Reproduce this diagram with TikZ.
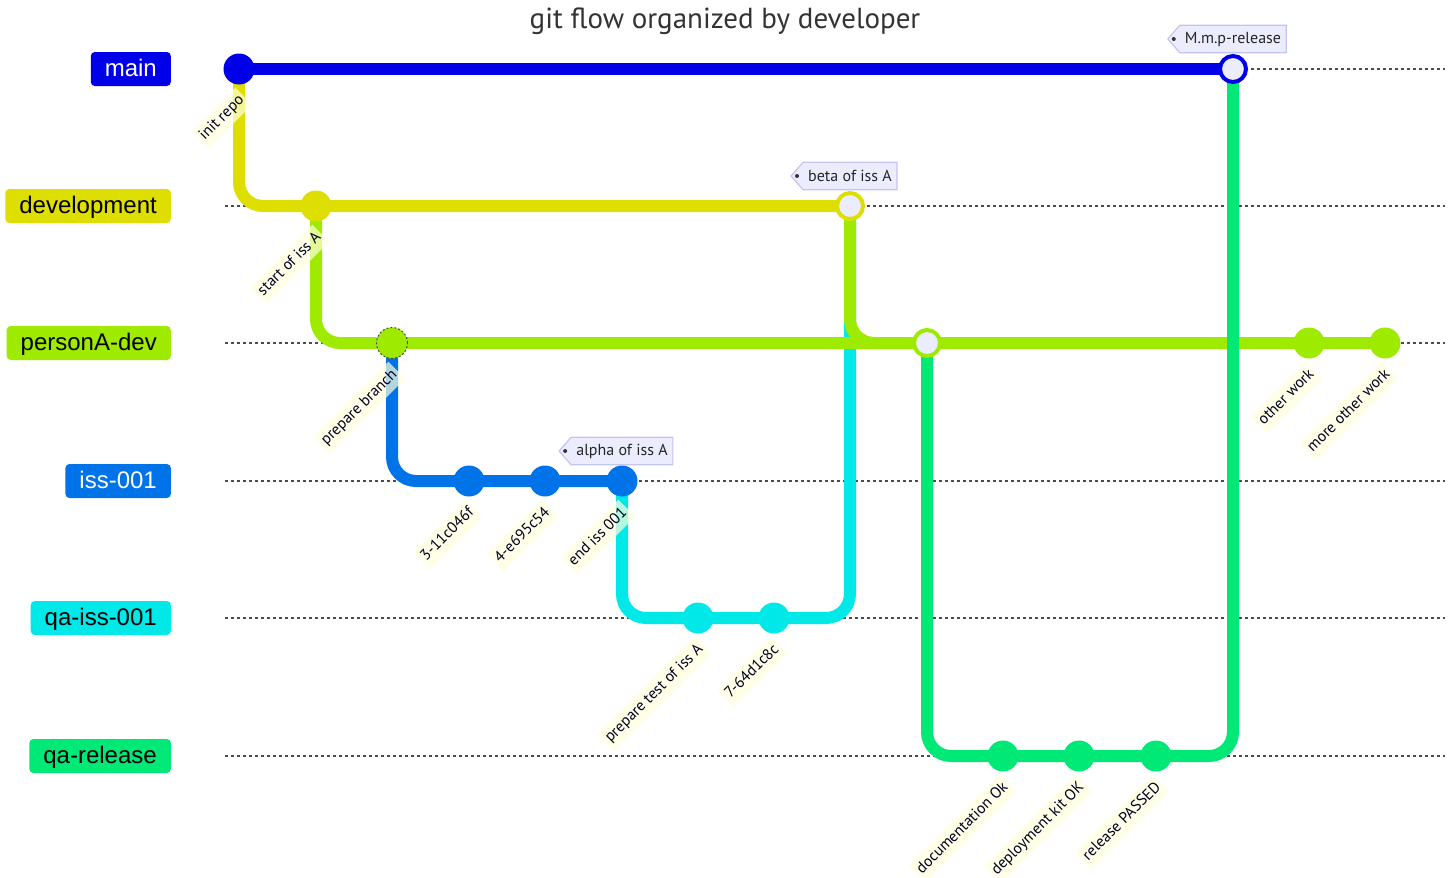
\documentclass[tikz,border=0pt]{standalone}
\usepackage{fontspec}
\setmainfont{PT Sans}
\newfontfamily\lanefont{Liberation Sans}
\usetikzlibrary{backgrounds}
\definecolor{mainclr}{RGB}{0,0,232}
\definecolor{devclr}{RGB}{222,222,0}
\definecolor{persclr}{RGB}{158,234,0}
\definecolor{issclr}{RGB}{0,115,232}
\definecolor{qaissclr}{RGB}{0,232,232}
\definecolor{qarelclr}{RGB}{0,232,118}
\definecolor{tagfill}{RGB}{236,236,255}
\definecolor{tagline}{RGB}{196,196,240}
\definecolor{lblbg}{RGB}{255,255,222}
\definecolor{lbltext}{RGB}{0,0,33}

\begin{document}
\begin{tikzpicture}[x=1pt,y=-1pt,
    lane/.style={draw=black!70,line width=1.2pt,dash pattern=on 3pt off 3pt},
    branch/.style={line width=12pt,rounded corners=24pt},
    commit/.style={circle,fill=#1,minimum size=31pt,inner sep=0pt},
    merged/.style={circle,draw=#1,line width=4pt,fill=tagfill,minimum size=26pt,inner sep=0pt},
    lanelabel/.style={fill=#1,rounded corners=4pt,anchor=east,minimum height=34pt,inner xsep=14pt,inner ysep=6pt,
        text height=17pt,text depth=2pt,font=\lanefont\fontsize{24}{24}\selectfont},
    clabel/.style={rotate=45,anchor=east,fill=lblbg,fill opacity=.7,text opacity=1,text=lbltext,
        inner xsep=3pt,inner ysep=5pt,text height=11pt,text depth=3pt,font=\fontsize{15.5}{15.5}\selectfont},
    tagtext/.style={inner xsep=5pt,minimum height=27pt,text=black!85,font=\fontsize{16}{16}\selectfont},
    tagbox/.style={fill=tagfill,draw=tagline,line width=1.2pt,line join=round}]
    \pgfmathsetmacro{\ymain}{69}
    \pgfmathsetmacro{\ydev}{206}
    \pgfmathsetmacro{\ypers}{343}
    \pgfmathsetmacro{\yiss}{481}
    \pgfmathsetmacro{\yqaiss}{618}
    \pgfmathsetmacro{\yqarel}{756}
    \useasboundingbox (0,0) rectangle (1452,878);
    \node[text=black!80,font=\fontsize{29}{29}\selectfont] (title) at (725,21) {git flow organized by developer};
    % branch names
    \node[lanelabel=mainclr,text=white] (lmain) at (171,\ymain) {main};
    \node[lanelabel=devclr] (ldev) at (171,\ydev) {development};
    \node[lanelabel=persclr] (lpers) at (171,\ypers) {personA-dev};
    \node[lanelabel=issclr,text=white] (liss) at (171,\yiss) {iss-001};
    \node[lanelabel=qaissclr] (lqaiss) at (171,\yqaiss) {qa-iss-001};
    \node[lanelabel=qarelclr] (lqarel) at (171,\yqarel) {qa-release};
    % commits
    \node[commit=mainclr] (init) at (239,\ymain) {};
    \node[merged=mainclr] (rel) at (1233,\ymain) {};
    \node[commit=devclr] (startA) at (316,\ydev) {};
    \node[merged=devclr] (betaA) at (850,\ydev) {};
    \node[commit=persclr,draw=black!70,dash pattern=on 2pt off 2pt,line width=1pt] (prep) at (392,\ypers) {};
    \node[merged=persclr] (mergeP) at (927,\ypers) {};
    \node[commit=persclr] (other) at (1309,\ypers) {};
    \node[commit=persclr] (more) at (1385,\ypers) {};
    \node[commit=issclr] (c3) at (469,\yiss) {};
    \node[commit=issclr] (c4) at (545,\yiss) {};
    \node[commit=issclr] (endiss) at (622,\yiss) {};
    \node[commit=qaissclr] (prept) at (698,\yqaiss) {};
    \node[commit=qaissclr] (c7) at (774,\yqaiss) {};
    \node[commit=qarelclr] (doc) at (1003,\yqarel) {};
    \node[commit=qarelclr] (kit) at (1079,\yqarel) {};
    \node[commit=qarelclr] (passed) at (1156,\yqarel) {};
    % commit messages
    \node[clabel] (linit) at ([shift={(5,27)}]init.center) {init repo};
    \node[clabel] (lstartA) at ([shift={(5,27)}]startA.center) {start of iss A};
    \node[clabel] (lprep) at ([shift={(5,27)}]prep.center) {prepare branch};
    \node[clabel] (lc3) at ([shift={(5,27)}]c3.center) {3-11c046f};
    \node[clabel] (lc4) at ([shift={(5,27)}]c4.center) {4-e695c54};
    \node[clabel] (lendiss) at ([shift={(5,27)}]endiss.center) {end iss 001};
    \node[clabel] (lprept) at ([shift={(5,27)}]prept.center) {prepare test of iss A};
    \node[clabel] (lc7) at ([shift={(5,27)}]c7.center) {7-64d1c8c};
    \node[clabel] (ldoc) at ([shift={(5,27)}]doc.center) {documentation Ok};
    \node[clabel] (lkit) at ([shift={(5,27)}]kit.center) {deployment kit OK};
    \node[clabel] (lpassed) at ([shift={(5,27)}]passed.center) {release PASSED};
    \node[clabel] (lother) at ([shift={(5,27)}]other.center) {other work};
    \node[clabel] (lmore) at ([shift={(5,27)}]more.center) {more other work};
    % tags
    \node[tagtext] (tbeta) at ([shift={(0,-30)}]betaA.center) {beta of iss A};
    \node[tagtext] (talpha) at ([shift={(0,-30)}]endiss.center) {alpha of iss A};
    \node[tagtext] (trel) at ([shift={(0,-30)}]rel.center) {M.m.p-release};
    \begin{scope}[on background layer]
        \foreach \y in {\ymain,\ydev,\ypers,\yiss,\yqaiss,\yqarel}
            \draw[lane] (225,\y) -- (1445,\y);
        \draw[branch,mainclr] (init.center) -- (rel.center);
        \draw[branch,devclr] (init.center) |- (startA.center) -- (betaA.center);
        \draw[branch,qaissclr] (endiss.center) |- (prept.center) -- (c7.center) -| (betaA.center);
        \draw[branch,persclr] (startA.center) |- (prep.center) -- (more.center);
        \draw[branch,persclr] (betaA.center) |- (mergeP.center);
        \draw[branch,issclr] (prep.center) |- (c3.center) -- (endiss.center);
        \draw[branch,qarelclr] (mergeP.center) |- (doc.center) -- (passed.center) -| (rel.center);
        \foreach \t in {tbeta,talpha,trel} {
            \draw[tagbox] (\t.north west) -- (\t.north east) -- (\t.south east) -- (\t.south west)
                -- ([xshift=-12pt]\t.west) -- cycle;
            \fill[black!80] ([xshift=-6pt]\t.west) circle (2pt);
        }
    \end{scope}
\end{tikzpicture}
\end{document}
